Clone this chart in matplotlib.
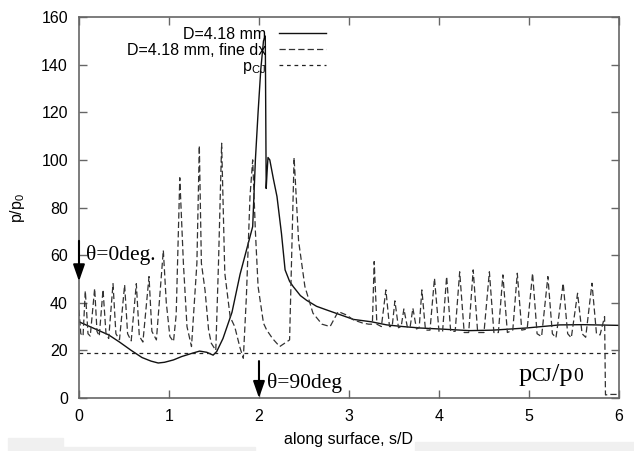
import matplotlib.pyplot as plt
from matplotlib.patches import Rectangle

# D=4.18 mm (solid)
s_coarse = [0.0, 0.15, 0.33, 0.45, 0.58, 0.7, 0.8, 0.88, 0.95, 1.05, 1.14, 1.25, 1.34,
            1.42, 1.49, 1.53, 1.6, 1.7, 1.79, 1.86, 1.93, 1.96, 1.99, 2.02, 2.05, 2.07,
            2.08, 2.09, 2.1, 2.12, 2.16, 2.2, 2.25, 2.29, 2.34, 2.38, 2.46, 2.53, 2.64,
            2.75, 2.9, 3.05, 3.25, 3.42, 3.6, 3.79, 4.0, 4.34, 4.6, 4.97, 5.2, 5.34, 5.6, 6.0]
p_coarse = [32, 29.5, 26.5, 23.5, 20, 17, 15.5, 14.7, 15, 16, 17.4, 18.7, 19.7,
            19.2, 18, 19.5, 25, 36, 52, 62, 72, 100, 120, 138, 150, 152,
            88, 95, 101, 100, 92, 84.6, 69, 53.8, 49, 46.8, 43, 41, 38.5,
            37, 35, 33, 32, 30.7, 30, 29.4, 29, 28.3, 28.5, 29.4, 30.2, 30.7, 30.8, 30.5]

# D=4.18 mm, fine dx (dashed)
s_fine = [0.0, 0.02, 0.045, 0.07, 0.1, 0.125, 0.174, 0.2, 0.225, 0.267, 0.3, 0.33,
          0.378, 0.41, 0.45, 0.507, 0.54, 0.58, 0.637, 0.67, 0.71, 0.778, 0.81, 0.86,
          0.937, 0.97, 1.01, 1.05, 1.08, 1.12, 1.16, 1.2, 1.25, 1.31, 1.337, 1.36,
          1.4, 1.44, 1.47, 1.52, 1.55, 1.585, 1.62, 1.68, 1.73, 1.79, 1.826, 1.86,
          1.9, 1.93, 1.96, 1.99, 2.05, 2.085, 2.15, 2.23, 2.34, 2.39, 2.44, 2.51,
          2.6, 2.7, 2.79, 2.88, 2.97, 3.05, 3.15, 3.22, 3.26, 3.28, 3.31, 3.36,
          3.41, 3.45, 3.48, 3.51, 3.55, 3.58, 3.61, 3.65, 3.68, 3.71, 3.75, 3.78,
          3.81, 3.85, 3.9, 3.95, 4.0, 4.04, 4.085, 4.13, 4.18, 4.23, 4.28, 4.33,
          4.38, 4.43, 4.5, 4.56, 4.61, 4.66, 4.71, 4.76, 4.82, 4.87, 4.92, 4.98,
          5.04, 5.09, 5.14, 5.21, 5.26, 5.3, 5.38, 5.43, 5.47, 5.54, 5.59, 5.63,
          5.7, 5.75, 5.79, 5.84, 5.85, 5.9, 6.0]
p_fine = [37, 27, 26, 45, 27, 26, 46, 28, 26, 45.5, 27, 25,
          48, 27, 24.5, 47.5, 27, 24, 48, 26, 23.5, 51, 28, 24.4,
          62, 40, 25.8, 23.7, 35, 92.5, 56.6, 30, 21.6, 56.6, 106, 56.6,
          45.4, 28.6, 23, 20, 56.6, 107, 52.5, 34, 30, 21, 16.7, 42.6,
          84.6, 100, 70, 46.8, 31.4, 28.6, 25, 21.6, 24.4, 101, 66, 46.8,
          35.6, 31, 30, 36.3, 34.9, 32.8, 31.5, 31, 31, 57.3, 31, 30,
          45.4, 30, 30, 40.8, 29.5, 30, 37.4, 29.5, 30, 37.7, 29, 29.5,
          45.4, 28.5, 28.5, 50.3, 28, 28, 51, 28, 28, 53, 27.5, 27.5,
          53.8, 27.5, 27.5, 53, 27.5, 27.5, 51.7, 27.5, 28.5, 52.4, 28.5, 29,
          52.4, 27, 25.8, 51, 27, 25.3, 48.2, 27, 25.3, 44, 27, 25.5,
          48.2, 27, 26.5, 34.2, 1.3, 1.5, 1.5]

# CJ pressure ratio
s_cj = [0, 6]
p_cj = [19, 19]

x_ticks = [0, 1, 2, 3, 4, 5, 6]
y_ticks = [0, 20, 40, 60, 80, 100, 120, 140, 160]

plt.rcParams['font.family'] = ['Liberation Sans', 'DejaVu Sans']
plt.rcParams['mathtext.fontset'] = 'custom'
plt.rcParams['mathtext.rm'] = 'Liberation Sans'

fig = plt.figure(figsize=(6.34, 4.51), dpi=100)
ax = fig.add_axes([0.1246, 0.1175, 0.8517, 0.8448])

ax.plot(s_coarse, p_coarse, color='#111111', lw=1.0, label='D=4.18 mm')
ax.plot(s_fine, p_fine, color='#333333', lw=0.9, dashes=(5, 2.5),
        label='D=4.18 mm, fine dx')
ax.plot(s_cj, p_cj, color='#222222', lw=0.9, dashes=(3, 3),
        label=r'p$_{\mathrm{CJ}}$')

ax.set_xlim(0, 6)
ax.set_ylim(0, 160)
ax.set_xticks(x_ticks)
ax.set_yticks(y_ticks)
ax.tick_params(direction='in', top=True, right=True, length=6, width=1,
               color='#666666', labelsize=11.5, pad=8)
for sp in ax.spines.values():
    sp.set_color('#666666')
    sp.set_linewidth(1.2)

ax.set_xlabel('along surface, s/D', fontsize=11.5, labelpad=6)
ax.set_ylabel(r'p/p$_\mathrm{0}$', fontsize=11.5, labelpad=10)

ax.legend(loc='upper right', bbox_to_anchor=(0.479, 1.003), frameon=False,
          markerfirst=False, fontsize=11.5, handlelength=3.0, handletextpad=0.8,
          labelspacing=0.05, borderpad=0.2)

# angle markers
arrow = dict(arrowstyle='-|>,head_length=1.0,head_width=0.35', color='black', lw=1.5,
             shrinkA=0, shrinkB=0)
ax.annotate('', xy=(0, 49), xytext=(0, 66), arrowprops=arrow, annotation_clip=False)
ax.annotate('', xy=(2, 0), xytext=(2, 15.5), arrowprops=arrow)
ax.text(0.075, 60, 'θ=0deg.', family='Liberation Serif', fontsize=15.5, va='center')
ax.text(2.085, 6.3, 'θ=90deg', family='Liberation Serif', fontsize=15.5, va='center')

# pCJ/p0 label, small capitals for CJ and 0
ax.text(4.88, 9.5, 'p', family='Liberation Serif', fontsize=19, va='center')
ax.annotate('CJ', xy=(4.88, 9.5), xytext=(9.5, -0.5), textcoords='offset points',
            family='Liberation Serif', fontsize=14, va='center')
ax.annotate('/p', xy=(4.88, 9.5), xytext=(24.5, 0), textcoords='offset points',
            family='Liberation Serif', fontsize=19, va='center')
ax.annotate('0', xy=(4.88, 9.5), xytext=(39.5, -0.5), textcoords='offset points',
            family='Liberation Serif', fontsize=14, va='center')

# scanned-page bands at the bottom
fig.patches.append(Rectangle((8 / 634, 0), 55 / 634, 13 / 451, transform=fig.transFigure,
                             color='#f0f0f0', zorder=-1))
fig.patches.append(Rectangle((63 / 634, 0), 192 / 634, 4 / 451, transform=fig.transFigure,
                             color='#f0f0f0', zorder=-1))
fig.patches.append(Rectangle((415 / 634, 0), 219 / 634, 9 / 451, transform=fig.transFigure,
                             color='#f0f0f0', zorder=-1))

fig.savefig('out.png', dpi=100)
